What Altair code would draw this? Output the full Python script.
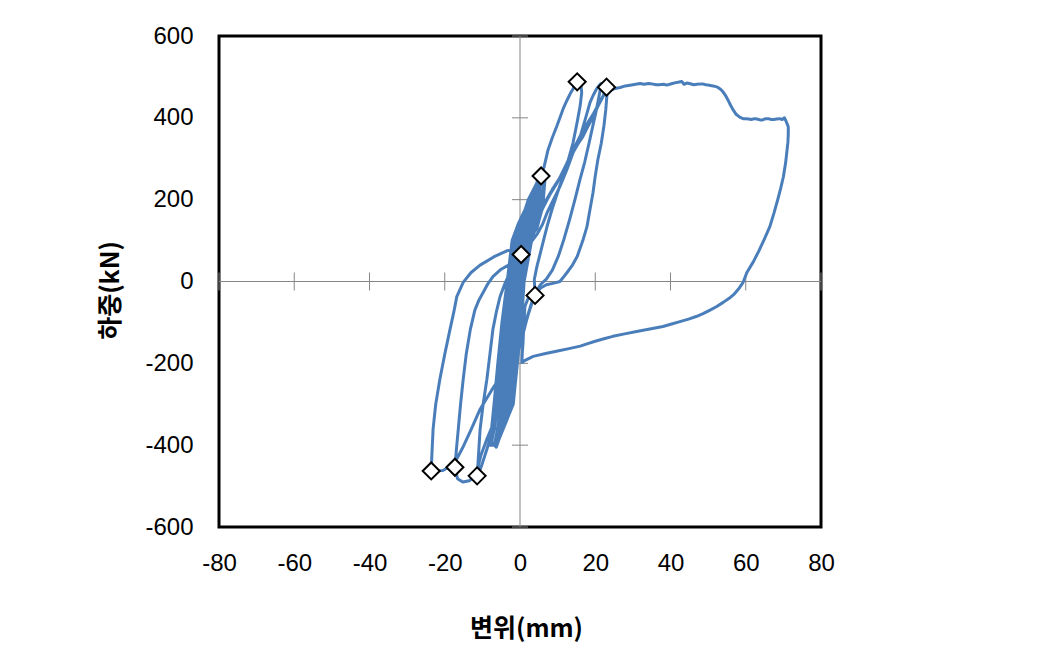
import altair as alt
import pandas as pd

# ---- data (displacement mm, load kN) ----
# small elastic cycles forming the dense central band
core_x = [0.0, 1.1, 2.8, 2.0, -0.3, -2.0, -3.0, -4.1, -4.6,
          -3.2, -1.9, -0.8, 0.2, 1.9, 3.6, 4.2,
          3.2, 1.6, -1.1, -2.8, -3.8, -4.9, -5.8,
          -4.0, -2.6, -1.1, 0.0, 0.9, 2.7, 5.0, 5.5,
          4.4, 2.6, 0.8, -1.7, -3.3, -4.4, -5.5, -6.3, -7.2,
          -5.6, -2.6, -1.5, -0.4, 0.6, 2.3, 5.8, 6.4,
          5.3, 3.0, -0.7, -2.4, -3.4, -4.5, -5.6, -7.6,
          -6.0, -1.8, -0.7, 0.4, 1.1, 3.1, 6.2, 6.6,
          5.5, 2.6, -0.5, -2.1, -3.4, -4.8, -5.9, -6.9, -8.0,
          -6.5, -3.4, -2.3, -1.2, -0.2, 1.5, 5.0, 5.6,
          4.8, 3.6, 0.1, -1.6, -2.6, -3.7, -4.8, -6.8,
          -6.3, -2.4, -1.3, -0.2, 0.8, 2.5, 6.0, 6.5,
          5.0, 2.2, -1.3, -3.0, -4.0, -5.1, -6.2, -7.8,
          -6.8, -4.2, -3.1, -2.0, -1.0, 0.7, 4.2, 5.5]
core_y = [0, 60, 150, 150, 100, 0, -100, -200, -240,
          -240, -200, -100, 0, 100, 170, 190,
          190, 150, 100, 0, -100, -200, -290,
          -290, -250, -200, -100, 0, 100, 200, 220,
          220, 180, 140, 100, 0, -100, -200, -300, -360,
          -360, -300, -200, -100, 0, 100, 200, 250,
          250, 200, 100, 0, -100, -200, -300, -395,
          -395, -300, -200, -100, 0, 100, 200, 245,
          245, 200, 140, 100, 0, -100, -200, -300, -400,
          -400, -300, -200, -100, 0, 100, 200, 255,
          255, 200, 100, 0, -100, -200, -300, -400,
          -405, -300, -200, -100, 0, 100, 200, 250,
          250, 200, 100, 0, -100, -200, -300, -400,
          -400, -300, -200, -100, 0, 100, 200, 258]

# cycle to +15 mm / -11 mm
cycA_x = [6.4, 7.4, 8.6, 9.8, 10.8, 11.6, 12.5, 13.4, 14.4, 15.3,
          16.2, 16.4, 16.0, 15.2, 14.1, 12.8, 11.4, 9.9, 8.5, 7.2, 6.1, 5.2, 4.5, 3.8, 4.0,
          3.0, 1.8, 0.4, -1.2, -3.0, -5.0, -7.0, -8.8, -10.2, -11.4,
          -11.0, -10.6, -9.8, -8.8, -8.0, -7.2, -6.3, -5.3, -4.0, -2.7, -1.4, 0.0, 1.5]
cycA_y = [280, 320, 352, 380, 405, 425, 443, 460, 475, 487,
          480, 462, 430, 390, 339, 296, 256, 215, 176, 135, 95, 62, 37, 5, -34,
          -55, -90, -135, -185, -240, -300, -355, -410, -450, -477,
          -420, -361, -300, -239, -178, -117, -75, -37, -5, 22, 42, 60, 92]

# cycle to +21 mm / -17 mm
cycB_x = [2.7, 4.2, 6.1, 7.8, 9.8, 11.5, 13.3, 14.7, 16.0, 17.3, 18.6, 19.4, 20.3, 21.5,
          21.4, 20.9, 20.2, 19.3, 18.3, 17.2, 15.9, 14.6, 13.2, 11.7, 10.2, 8.6, 7.0, 5.4, 4.0,
          2.8, 1.6, 0.2, -1.6, -3.8, -6.3, -8.8, -10.4, -11.2, -12.0, -13.5, -15.2, -16.6, -17.3,
          -16.9, -16.4, -15.8, -15.1, -14.3, -13.2, -12.0, -10.9, -9.8, -8.5, -7.2, -5.0, -1.9, 0.5, 2.6, 4.5]
cycB_y = [105, 142, 180, 210, 240, 270, 300, 326, 354, 395, 437, 454, 470, 484,
          472, 448, 415, 378, 336, 292, 248, 200, 152, 104, 62, 28, 6, -8, -30,
          -60, -100, -150, -210, -270, -330, -385, -425, -455, -477, -487, -490, -482, -454,
          -410, -361, -300, -239, -178, -117, -70, -45, -27, -5, 12, 30, 46, 72, 92, 115]

# cycle to +23 mm / -24 mm
cycC_x = [6.0, 7.2, 8.8, 10.6, 12.4, 14.1, 15.4, 16.7, 18.0, 19.4, 20.7, 22.0, 23.0,
          23.1, 22.8, 22.3, 21.6, 20.7, 20.0, 19.4, 18.6, 17.8, 16.7, 15.2, 13.8, 12.5, 11.4, 10.6,
          9.0, 7.0, 5.5, 4.0,
          2.2, 0.2, -2.0, -4.6, -7.5, -10.6, -13.0, -15.0, -16.6, -17.8, -20.5, -23.6,
          -23.4, -23.1, -22.4, -21.3, -20.0, -18.6, -17.6, -16.8, -15.1, -13.0, -10.6, -7.0, -3.5, 0.3, 2.4, 4.5]
cycC_y = [140, 168, 198, 232, 272, 315, 336, 354, 378, 402, 428, 451, 475,
          455, 420, 380, 338, 298, 258, 217, 176, 134, 100, 61, 38, 22, 9, 0,
          -4, -8, -16, -30,
          -80, -130, -180, -225, -265, -312, -362, -402, -430, -448, -462, -463,
          -420, -361, -300, -239, -178, -117, -75, -37, -2, 22, 40, 60, 75, 80, 102, 130]

# final large excursion to +71 mm
big_x = [5.8, 7.0, 8.6, 10.5, 12.3, 14.0, 15.3, 16.5, 18.0, 19.5, 20.8, 22.0, 23.5, 25.0,
         26.6, 28.0, 30.0, 31.9, 33.0, 34.2, 35.0, 36.2, 37.0, 38.2, 39.0, 40.5, 41.4, 42.0, 43.0,
         43.6, 44.3, 45.0, 46.2, 47.0, 48.5, 49.4, 50.0, 51.3, 52.5, 53.3, 54.0,
         54.6, 55.2, 55.9, 56.6, 57.5, 58.5, 59.3, 60.0, 60.8, 61.5, 62.3, 63.0, 63.8, 64.5,
         65.3, 66.0, 66.8, 67.5, 68.2, 69.0, 69.7, 70.3, 70.8,
         71.3, 71.3, 71.2, 70.9, 70.6, 70.0, 69.3, 68.5, 67.5, 66.4, 65.0, 63.5, 62.0, 60.3,
         59.3, 58.2, 57.0, 55.6, 54.0, 52.3, 50.5, 48.8, 47.0, 44.8, 42.5, 40.3, 38.0,
         34.5, 31.0, 27.8, 24.7, 22.3, 20.0, 18.0, 16.0, 13.0, 10.0, 6.8, 3.5, 1.5, 0.5,
         0.6, 0.8, 1.0, 1.3, 2.2]
big_y = [175, 200, 225, 252, 286, 320, 343, 365, 388, 410, 432, 452, 466, 471,
         474, 478, 481, 484, 482, 484, 483, 481, 481, 482, 480, 484, 486, 487, 489,
         482, 485, 484, 481, 482, 483, 481, 480, 478, 475, 470, 463,
         455, 445, 432, 420, 408, 401, 398, 398, 397, 396, 398, 397, 395, 395,
         398, 398, 396, 396, 397, 398, 396, 400, 390,
         378, 360, 340, 315, 290, 256, 228, 200, 167, 134, 105, 75, 48, 22,
         -2, -17, -30, -41, -51, -61, -70, -78, -85, -92, -98, -104, -110,
         -116, -122, -128, -134, -140, -146, -152, -158, -164, -170, -176, -183, -192, -198,
         -175, -150, -110, -61, -40]

mark_x = [15.2, 23.0, 5.6, 0.3, 4.0, -23.6, -17.3, -11.4]
mark_y = [488, 475, 258, 66, -34, -463, -454, -475]

x_ticks = [-80, -60, -40, -20, 0, 20, 40, 60, 80]
y_ticks = [-600, -400, -200, 0, 200, 400, 600]

# ---- build tables ----
xs = core_x + cycA_x + cycB_x + cycC_x + big_x
ys = core_y + cycA_y + cycB_y + cycC_y + big_y
curve = pd.DataFrame({"x": xs, "y": ys, "i": list(range(len(xs)))})
marks = pd.DataFrame({"x": mark_x, "y": mark_y})
xt = pd.DataFrame({"x": x_ticks, "y": [0] * len(x_ticks)})
yt = pd.DataFrame({"x": [0] * len(y_ticks), "y": y_ticks})
vrule = pd.DataFrame({"x": [0], "y": [-600], "y2": [600]})
hrule = pd.DataFrame({"y": [0], "x": [-80], "x2": [80]})

W, H = 602, 491
LBL_FONT = "Liberation Sans"
TTL_FONT = "Noto Sans CJK KR"
LBL_EXPR = "datum.value < 0 ? '-' + abs(datum.value) : '' + datum.value"

xscale = alt.Scale(domain=[-80, 80], nice=False, zero=False)
yscale = alt.Scale(domain=[-600, 600], nice=False, zero=False)

xaxis = alt.Axis(values=x_ticks, grid=False, ticks=False, domain=False,
                 labelFont=LBL_FONT, labelFontSize=24, labelColor="black",
                 labelPadding=24, labelFlush=False, labelOverlap=False,
                 labelExpr=LBL_EXPR,
                 title="변위(mm)", titleFont=TTL_FONT,
                 titleFontSize=25, titleFontWeight="bold", titleColor="black",
                 titleX=307, titleY=101, titleAlign="center", titleBaseline="middle")
yaxis = alt.Axis(values=y_ticks, grid=False, ticks=False, domain=False,
                 labelFont=LBL_FONT, labelFontSize=24, labelColor="black",
                 labelPadding=26, labelFlush=False, labelOverlap=False,
                 labelExpr=LBL_EXPR,
                 title="하중(kN)", titleFont=TTL_FONT,
                 titleFontSize=25, titleFontWeight="bold", titleColor="black",
                 titleAngle=270, titleX=-109, titleY=254, titleAlign="center",
                 titleBaseline="middle")

GRAY = "#868686"

vline = alt.Chart(vrule).mark_rule(color=GRAY, strokeWidth=1).encode(
    x=alt.X("x:Q", scale=xscale, axis=xaxis),
    y=alt.Y("y:Q", scale=yscale, axis=yaxis),
    y2="y2:Q")
hline = alt.Chart(hrule).mark_rule(color=GRAY, strokeWidth=1).encode(
    x=alt.X("x:Q", scale=xscale), x2="x2:Q", y=alt.Y("y:Q", scale=yscale))
xtick = alt.Chart(xt).mark_point(shape="M0,-1L0,1", size=324, filled=False,
                                 stroke=GRAY, strokeWidth=1, opacity=1).encode(
    x=alt.X("x:Q", scale=xscale), y=alt.Y("y:Q", scale=yscale))
ytick = alt.Chart(yt).mark_point(shape="M-1,0L1,0", size=256, filled=False,
                                 stroke=GRAY, strokeWidth=1, opacity=1).encode(
    x=alt.X("x:Q", scale=xscale), y=alt.Y("y:Q", scale=yscale))
line = alt.Chart(curve).mark_line(color="#4a7ebb", strokeWidth=3,
                                  strokeJoin="round").encode(
    x=alt.X("x:Q", scale=xscale), y=alt.Y("y:Q", scale=yscale), order="i:Q")
pts = alt.Chart(marks).mark_point(shape="diamond", size=290, filled=True,
                                  fill="white", stroke="black", strokeWidth=2,
                                  opacity=1).encode(
    x=alt.X("x:Q", scale=xscale), y=alt.Y("y:Q", scale=yscale))

chart = alt.layer(vline, hline, xtick, ytick, line, pts).properties(
    width=W, height=H,
    autosize=alt.AutoSizeParams(type="none"),
    padding={"left": 219, "top": 36, "right": 1046 - 219 - W, "bottom": 659 - 36 - H},
    background="white",
).configure_view(stroke="black", strokeWidth=3)

chart.save("out.html", embed_options={"renderer": "svg", "actions": False})
